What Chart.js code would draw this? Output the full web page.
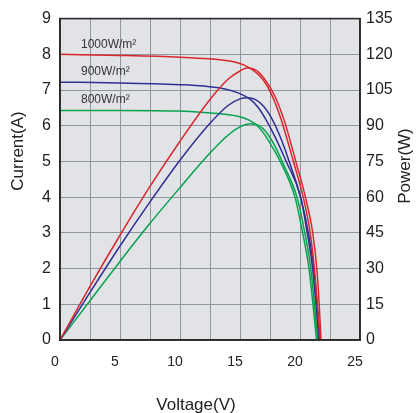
<!DOCTYPE html>
<html>
<head>
<meta charset="utf-8">
<script src="https://cdn.jsdelivr.net/npm/chart.js@4.4.0/dist/chart.umd.min.js"></script>
<style>
  html, body { margin: 0; padding: 0; background: #ffffff; }
  #wrap { width: 417px; height: 413px; position: relative; }
</style>
</head>
<body>
<div id="wrap"><canvas id="c"></canvas></div>
<script>
// ---- Data ----
const irradianceLabels = ['1000W/m\u00B2', '900W/m\u00B2', '800W/m\u00B2'];
const xTitle = 'Voltage(V)';
const yLeftTitle = 'Current(A)';
const yRightTitle = 'Power(W)';

// I-V curves (A)
const v1000I = [0, 5, 10, 12, 13.5, 14.5, 15.4, 16.2, 16.9, 17.6, 18.4, 19.45, 20.3, 20.85, 21.2, 21.45, 21.68];
const i1000  = [8.0, 7.97, 7.92, 7.88, 7.84, 7.79, 7.69, 7.53, 7.3, 6.9, 6.2, 5.0, 3.95, 3.0, 2.0, 1.0, 0];
const v900I  = [0, 5, 10, 12, 13.75, 15, 15.8, 16.5, 17.2, 17.9, 18.85, 20.05, 20.6, 21.05, 21.33, 21.58];
const i900   = [7.22, 7.2, 7.15, 7.11, 7.03, 6.9, 6.75, 6.52, 6.15, 5.7, 5.0, 4.0, 3.0, 2.0, 1.0, 0];
const v800I  = [0, 5, 10, 12, 13.75, 15, 15.8, 16.5, 17.1, 17.7, 18.35, 19.58, 20.22, 20.75, 21.08, 21.38];
const i800   = [6.43, 6.43, 6.41, 6.37, 6.32, 6.25, 6.15, 5.98, 5.73, 5.4, 5.0, 4.0, 3.0, 2.0, 1.0, 0];

// P-V curves (W)
const v1000P = [0, 2.5, 5, 7.5, 10, 12.5, 14, 15, 15.6, 16.3, 17, 17.9, 18.75, 19.65, 20.45, 21.06, 21.4, 21.6, 21.75];
const p1000  = [0, 22.5, 44, 64.5, 83.5, 101, 109.5, 113, 114.2, 113.5, 110, 102.5, 91.2, 75, 60, 45, 30, 15, 0];
const v900P  = [0, 2.5, 5, 7.5, 10, 12.5, 14, 15, 15.6, 16.3, 17, 17.6, 18.3, 19.1, 20.05, 20.7, 21.15, 21.42, 21.64];
const p900   = [0, 20, 39.5, 58, 75.5, 91, 98.5, 101.3, 101.8, 101, 98, 93.5, 86, 75, 60, 45, 30, 15, 0];
const v800P  = [0, 2.5, 5, 7.5, 10, 12.5, 14, 15, 15.9, 16.6, 17.3, 17.9, 18.6, 19.75, 20.4, 20.9, 21.2, 21.47];
const p800   = [0, 16.5, 33, 49, 64, 78.5, 86, 89.5, 90.8, 90, 86.5, 81.5, 74, 60, 45, 30, 15, 0];

// ---- Styling ----
const RED = '#d9272e', BLUE = '#2e3192', GREEN = '#07a24f';
const FONT = "'Liberation Sans', Arial, Helvetica, sans-serif";
const GRID = '#8f959d';
const FRAME = '#2a2a2a';

const pts = (xs, ys) => xs.map((x, i) => ({ x: x, y: ys[i] }));
function ds(label, xs, ys, color, axis) {
  return {
    label: label, data: pts(xs, ys), yAxisID: axis,
    borderColor: color, backgroundColor: color, borderWidth: 1.5,
    pointRadius: 0, fill: false, cubicInterpolationMode: 'monotone'
  };
}

const decor = {
  id: 'decor',
  beforeDraw(chart) {
    const { ctx, chartArea: a } = chart;
    ctx.save();
    ctx.fillStyle = '#e1e3e7';
    ctx.fillRect(a.left, a.top, a.right - a.left, a.bottom - a.top);
    ctx.restore();
  },
  afterDraw(chart) {
    const { ctx, chartArea: a } = chart;
    ctx.save();
    ctx.strokeStyle = FRAME;
    ctx.lineWidth = 1.6;
    ctx.strokeRect(a.left, a.top, a.right - a.left, a.bottom - a.top);
    // irradiance labels
    ctx.fillStyle = '#333333';
    ctx.font = '12px ' + FONT;
    ctx.textAlign = 'left';
    ctx.textBaseline = 'middle';
    const labelY = [45, 72, 100];
    irradianceLabels.forEach((t, i) => ctx.fillText(t, 81, labelY[i]));
    // axis titles
    ctx.fillStyle = '#222222';
    ctx.font = '17px ' + FONT;
    ctx.textAlign = 'center';
    ctx.textBaseline = 'middle';
    ctx.save(); ctx.translate(18, 151); ctx.rotate(-Math.PI / 2); ctx.fillText(yLeftTitle, 0, 0); ctx.restore();
    ctx.save(); ctx.translate(405, 166); ctx.rotate(-Math.PI / 2); ctx.fillText(yRightTitle, 0, 0); ctx.restore();
    ctx.textBaseline = 'alphabetic';
    ctx.fillText(xTitle, 196, 410);
    ctx.restore();
  }
};

new Chart(document.getElementById('c'), {
  type: 'line',
  data: {
    datasets: [
      ds('I 1000', v1000I, i1000, RED, 'yI'),
      ds('P 1000', v1000P, p1000, RED, 'yP'),
      ds('I 900', v900I, i900, BLUE, 'yI'),
      ds('P 900', v900P, p900, BLUE, 'yP'),
      ds('I 800', v800I, i800, GREEN, 'yI'),
      ds('P 800', v800P, p800, GREEN, 'yP')
    ]
  },
  options: {
    responsive: true, maintainAspectRatio: false, animation: false,
    layout: { padding: { top: 17, left: 0, right: 0, bottom: 0 } },
    plugins: { legend: { display: false }, tooltip: { enabled: false }, title: { display: false } },
    scales: {
      x: {
        type: 'linear', min: 0, max: 25,
        grid: { color: GRID, lineWidth: 1, drawTicks: false },
        border: { display: true, color: FRAME, width: 1.6 },
        ticks: {
          stepSize: 2.5, padding: 14, labelOffset: -5, maxRotation: 0, autoSkip: false,
          color: '#222', font: { family: FONT, size: 14 },
          callback: v => (Math.abs(v % 5) < 1e-6 ? String(v) : '')
        },
        afterFit: s => { s.height = 73; }
      },
      yI: {
        type: 'linear', position: 'left', min: 0, max: 9,
        grid: { color: GRID, lineWidth: 1, drawTicks: false },
        border: { display: true, color: FRAME, width: 1.6 },
        ticks: { stepSize: 1, padding: 9, color: '#222', font: { family: FONT, size: 16 } },
        afterFit: s => { s.width = 60; }
      },
      yP: {
        type: 'linear', position: 'right', min: 0, max: 135,
        grid: { drawOnChartArea: false, drawTicks: false },
        border: { display: true, color: FRAME, width: 1.6 },
        ticks: { stepSize: 15, padding: 6, color: '#222', font: { family: FONT, size: 16 } },
        afterFit: s => { s.width = 57; }
      }
    }
  },
  plugins: [decor]
});
</script>
</body>
</html>
